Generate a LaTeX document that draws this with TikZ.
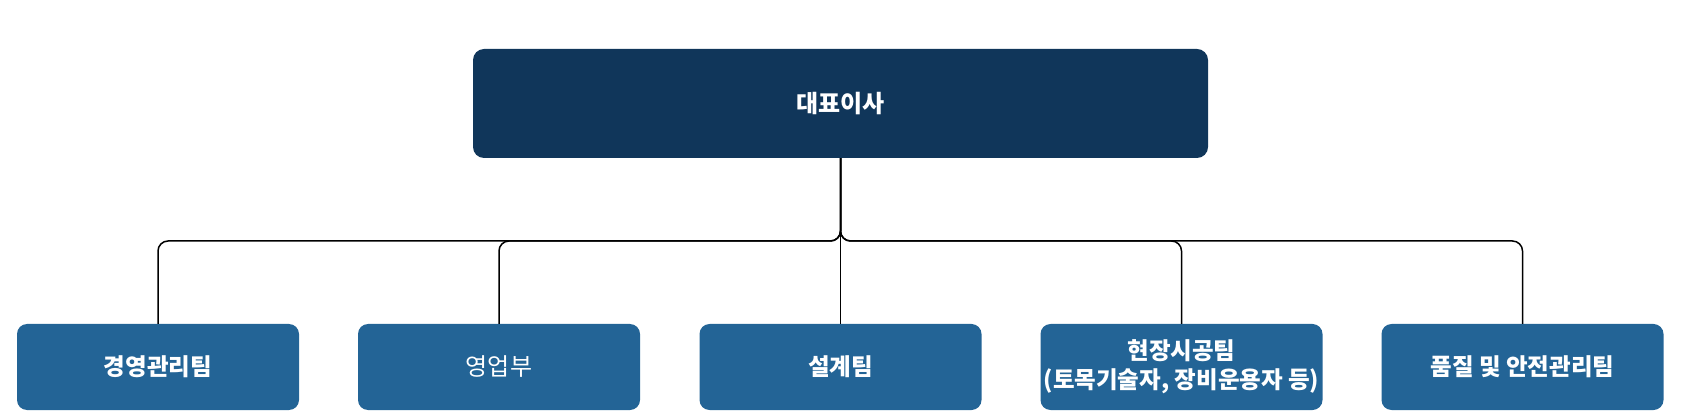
\documentclass[tikz,border=0pt]{standalone}
\usepackage{fontspec}
\setmainfont{Noto Sans CJK KR}
\definecolor{topc}{HTML}{10365A}
\definecolor{subc}{HTML}{236496}
\tikzset{
  x=1pt, y=-1pt,
  topbox/.style={rectangle, rounded corners=11pt, fill=topc, text=white,
    minimum width=735pt, minimum height=109pt, inner sep=0pt,
    font=\fontsize{24}{29}\selectfont\bfseries},
  subbox/.style={rectangle, rounded corners=10pt, fill=subc, text=white,
    minimum width=282pt, minimum height=86pt, inner sep=0pt, align=center,
    font=\fontsize{23.5}{29}\selectfont\bfseries},
  conn/.style={draw=black, line width=1.5pt, rounded corners=10pt}
}
\begin{document}
\begin{tikzpicture}
\useasboundingbox (0,0) rectangle (1688,411);
\node[topbox] (top) at (840.5,103.5) {대표이사};
\node[subbox] (b1) at (158,367) {경영관리팀};
\node[subbox, font=\fontsize{24}{29}\selectfont] (b2) at (499,367) {영업부};
\node[subbox] (b3) at (840.5,367) {설계팀};
\node[subbox] (b4) at (1181.5,367) {현장시공팀\\(토목기술자, 장비운용자 등)};
\node[subbox] (b5) at (1522.5,367) {품질 및 안전관리팀};
\coordinate (bus) at (840.5,241);
\draw[conn] (top.south) -- (top.south |- bus) -| (b1.north);
\draw[conn] (top.south) -- (top.south |- bus) -| (b2.north);
\draw[conn] (top.south) -- (b3.north);
\draw[conn] (top.south) -- (top.south |- bus) -| (b4.north);
\draw[conn] (top.south) -- (top.south |- bus) -| (b5.north);
\end{tikzpicture}
\end{document}
